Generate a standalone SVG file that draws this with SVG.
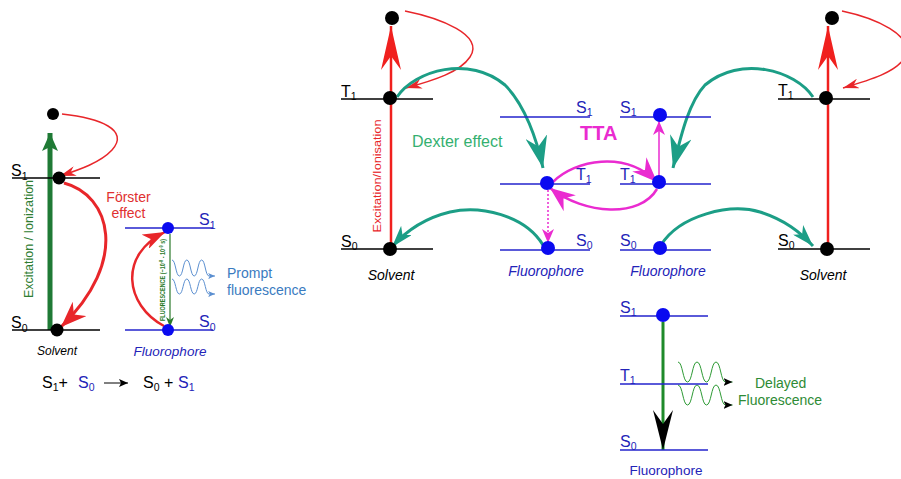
<svg xmlns="http://www.w3.org/2000/svg" width="901" height="479" viewBox="0 0 901 479">
<style>
text{font-family:"Liberation Sans",Arial,sans-serif}
.lb{stroke:#000;stroke-width:1.5;fill:none}
.ll{stroke:#2323cc;stroke-width:1.5;fill:none}
.kd{fill:#000}
.bd{fill:#0a0af0}
.lab{font-size:16px;fill:#000}
.labb{font-size:16px;fill:#2323b8}
.sub{font-size:10.5px}
.it{font-style:italic}
.red{stroke:#e8262a;fill:none}
.teal{stroke:#1c9e86;fill:none;stroke-width:3}
.mag{stroke:#ea2bd0;fill:none}
</style>
<defs>
<marker id="mGreenBig" viewBox="0 0 18 16" refX="18" refY="8" markerWidth="18" markerHeight="16" orient="auto" markerUnits="userSpaceOnUse"><path d="M18,8 L0,0 L4,8 L0,16 Z" fill="#1f7a35"/></marker>
<marker id="mRedBig" viewBox="0 0 26 20" refX="26" refY="10" markerWidth="26" markerHeight="20" orient="auto" markerUnits="userSpaceOnUse"><path d="M26,10 L0,0 L8,10 L0,20 Z" fill="#e8262a"/></marker>
<marker id="mRedMed" viewBox="0 0 22 16" refX="22" refY="8" markerWidth="22" markerHeight="16" orient="auto" markerUnits="userSpaceOnUse"><path d="M22,8 L0,0 L6,8 L0,16 Z" fill="#e8262a"/></marker>
<marker id="mRedThin" viewBox="0 0 16 10" refX="16" refY="5" markerWidth="16" markerHeight="10" orient="auto" markerUnits="userSpaceOnUse"><path d="M16,5 L0,0 L5,5 L0,10 Z" fill="#e8262a"/></marker>
<marker id="mRedVert" viewBox="0 0 44 20" refX="44" refY="10" markerWidth="44" markerHeight="20" orient="auto" markerUnits="userSpaceOnUse"><path d="M44,10 L0,0 L14,10 L0,20 Z" fill="#f0201e"/></marker>
<marker id="mGreenSmall" viewBox="0 0 10 8" refX="10" refY="4" markerWidth="10" markerHeight="8" orient="auto" markerUnits="userSpaceOnUse"><path d="M10,4 L0,0 L3,4 L0,8 Z" fill="#2a7a2a"/></marker>
<marker id="mBlueWave" viewBox="0 0 7 6" refX="7" refY="3" markerWidth="7" markerHeight="6" orient="auto" markerUnits="userSpaceOnUse"><path d="M7,3 L0,0 L2,3 L0,6 Z" fill="#5b8fd0"/></marker>
<marker id="mTealBig" viewBox="0 0 32 22" refX="32" refY="11" markerWidth="32" markerHeight="22" orient="auto" markerUnits="userSpaceOnUse"><path d="M32,11 L0,0 L10,11 L0,22 Z" fill="#1c9e86"/></marker>
<marker id="mTealSmall" viewBox="0 0 22 14" refX="22" refY="7" markerWidth="22" markerHeight="14" orient="auto" markerUnits="userSpaceOnUse"><path d="M22,7 L0,0 L6,7 L0,14 Z" fill="#1c9e86"/></marker>
<marker id="mMag" viewBox="0 0 25 20" refX="25" refY="10" markerWidth="25" markerHeight="20" orient="auto" markerUnits="userSpaceOnUse"><path d="M25,10 L0,0 L8,10 L0,20 Z" fill="#ea2bd0"/></marker>
<marker id="mMagSmall" viewBox="0 0 14 12" refX="14" refY="6" markerWidth="14" markerHeight="12" orient="auto" markerUnits="userSpaceOnUse"><path d="M14,6 L0,0 L4,6 L0,12 Z" fill="#ea2bd0"/></marker>
<marker id="mBlackBig" viewBox="0 0 40 20" refX="40" refY="10" markerWidth="40" markerHeight="20" orient="auto" markerUnits="userSpaceOnUse"><path d="M40,10 L0,0 L14,10 L0,20 Z" fill="#000"/></marker>
<marker id="mBlackSmall" viewBox="0 0 9 8" refX="9" refY="4" markerWidth="9" markerHeight="8" orient="auto" markerUnits="userSpaceOnUse"><path d="M9,4 L0,0 L2,4 L0,8 Z" fill="#000"/></marker>
</defs>

<g id="connectors">
  <!-- left panel -->
  <line x1="50" y1="330" x2="50" y2="133" stroke="#1f7a35" stroke-width="5" marker-end="url(#mGreenBig)"/>
  <path class="red" stroke-width="1.5" d="M62,114 C100,118 130,130 112,150 C100,163 78,170 60,176" marker-end="url(#mRedThin)"/>
  <path class="red" stroke-width="3" d="M64,183 C110,195 130,260 61,327" marker-end="url(#mRedBig)"/>
  <path class="red" stroke-width="2.5" d="M164,326 C125,305 118,255 165,232" marker-end="url(#mRedMed)"/>
  <line x1="170" y1="234" x2="170" y2="327" stroke="#2a7a2a" stroke-width="1.2" marker-end="url(#mGreenSmall)"/>
  <path d="M172,260 c3.7,0 3.7,16 7.4,16 c3.7,0 3.7,-16 7.4,-16 c3.7,0 3.7,16 7.4,16 c3.7,0 3.7,-16 7.4,-16 c3.7,0 3.7,16 7.4,16 l6,0" fill="none" stroke="#5b8fd0" stroke-width="1" marker-end="url(#mBlueWave)"/>
  <path d="M172,279 c3.7,0 3.7,15 7.4,15 c3.7,0 3.7,-15 7.4,-15 c3.7,0 3.7,15 7.4,15 c3.7,0 3.7,-15 7.4,-15 c3.7,0 3.7,15 7.4,15 l6,0" fill="none" stroke="#5b8fd0" stroke-width="1" marker-end="url(#mBlueWave)"/>
  <line x1="104" y1="383" x2="128" y2="383" stroke="#000" stroke-width="1" marker-end="url(#mBlackSmall)"/>

  <!-- middle: left solvent -->
  <line x1="391" y1="249" x2="391" y2="26" stroke="#f0201e" stroke-width="2.5" marker-end="url(#mRedVert)"/>
  <path class="red" stroke-width="1.5" d="M405,11 C440,18 485,35 470,57 C460,72 435,80 406,88" marker-end="url(#mRedThin)"/>
  <path class="teal" d="M397,97 C415,70 470,55 505,85 C525,105 537,140 543,168" marker-end="url(#mTealBig)"/>
  <path class="teal" stroke-width="2" d="M543,245 C525,215 480,205 450,212 C425,218 405,232 392,247" marker-end="url(#mTealSmall)"/>

  <!-- TTA -->
  <path class="mag" stroke-width="2.5" d="M553,182 C575,160 625,150 657,182" marker-end="url(#mMag)"/>
  <path class="mag" stroke-width="2.5" d="M657,189 C640,218 585,215 550,188" marker-end="url(#mMag)"/>
  <line x1="659" y1="180" x2="659" y2="121" stroke="#ea2bd0" stroke-width="1.5" marker-end="url(#mMagSmall)"/>
  <line x1="548" y1="190" x2="548" y2="243" stroke="#ea2bd0" stroke-width="1.5" stroke-dasharray="2,2" marker-end="url(#mMagSmall)"/>

  <!-- right solvent -->
  <line x1="828" y1="249" x2="828" y2="26" stroke="#f0201e" stroke-width="2.5" marker-end="url(#mRedVert)"/>
  <path class="red" stroke-width="1.5" d="M842,11 C875,18 915,35 905,57 C897,72 870,80 843,88" marker-end="url(#mRedThin)"/>
  <path class="teal" d="M813,97 C795,70 740,55 705,85 C688,103 680,140 673,168" marker-end="url(#mTealBig)"/>
  <path class="teal" stroke-width="2" d="M661,245 C680,215 730,203 760,212 C785,220 800,232 813,246" marker-end="url(#mTealSmall)"/>

  <!-- bottom fluorophore -->
  <line x1="663" y1="322" x2="663" y2="450" stroke="#1f8a2a" stroke-width="3" marker-end="url(#mBlackBig)"/>
  <path d="M678,362 c4.75,0 4.75,20 9.5,20 c4.75,0 4.75,-20 9.5,-20 c4.75,0 4.75,20 9.5,20 c4.75,0 4.75,-20 9.5,-20 c4.75,0 4.75,20 9.5,20 l7,0" fill="none" stroke="#2e9a35" stroke-width="1" marker-end="url(#mBlackSmall)"/>
  <path d="M678,385 c4.75,0 4.75,20 9.5,20 c4.75,0 4.75,-20 9.5,-20 c4.75,0 4.75,20 9.5,20 c4.75,0 4.75,-20 9.5,-20 c4.75,0 4.75,20 9.5,20 l7,0" fill="none" stroke="#2e9a35" stroke-width="1" marker-end="url(#mBlackSmall)"/>
</g>

<!-- Left panel: solvent -->
<g id="left-solvent">
  <line class="lb" x1="12" y1="178" x2="100" y2="178"/>
  <line class="lb" x1="12" y1="330" x2="100" y2="330"/>
  <circle class="kd" cx="53" cy="114" r="6"/>
  <circle class="kd" cx="59" cy="178" r="6.5"/>
  <circle class="kd" cx="57" cy="330" r="6.5"/>
  <text class="lab" x="11" y="176" font-size="17">S<tspan class="sub" dy="4">1</tspan></text>
  <text class="lab" x="11" y="328" font-size="17">S<tspan class="sub" dy="4">0</tspan></text>
  <text x="33" y="239" font-size="12.5" fill="#2e7d32" text-anchor="middle" transform="rotate(-90 33 239)">Excitation / Ionization</text>
  <text x="57" y="355" font-size="12" class="it" fill="#000" text-anchor="middle">Solvent</text>
  <text x="128.5" y="202" font-size="14" fill="#e03030" text-anchor="middle">Förster</text>
  <text x="128.5" y="218" font-size="14" fill="#e03030" text-anchor="middle">effect</text>
</g>

<g id="left-fluorophore">
  <line class="ll" x1="125" y1="228" x2="213" y2="228"/>
  <line class="ll" x1="125" y1="330" x2="213" y2="330"/>
  <circle class="bd" cx="168" cy="228" r="6"/>
  <circle class="bd" cx="168" cy="330" r="6"/>
  <text class="labb" x="199" y="225" font-size="17">S<tspan class="sub" dy="4">1</tspan></text>
  <text class="labb" x="199" y="327" font-size="17">S<tspan class="sub" dy="4">0</tspan></text>
  <text x="165" y="280" font-size="7" font-weight="bold" fill="#2a7a2a" text-anchor="middle" textLength="82" lengthAdjust="spacingAndGlyphs" transform="rotate(-90 165 280)">FLUORESCENCE (~10<tspan font-size="5" dy="-2">-8</tspan><tspan dy="2"> - 10</tspan><tspan font-size="5" dy="-2">-9</tspan><tspan dy="2"> s)</tspan></text>
  <text x="227" y="278" font-size="14" fill="#3a7bbf">Prompt</text>
  <text x="227" y="295" font-size="14" fill="#3a7bbf">fluorescence</text>
  <text x="170" y="356" font-size="13.5" class="it" fill="#2323b8" text-anchor="middle">Fluorophore</text>
</g>

<g id="equation">
  <text x="42" y="388" font-size="16" fill="#000">S<tspan class="sub" dy="3">1</tspan><tspan dy="-3">+</tspan></text>
  <text x="78" y="388" font-size="16" fill="#2323b8">S<tspan class="sub" dy="3">0</tspan></text>
  <text x="143" y="388" font-size="16" fill="#000">S<tspan class="sub" dy="3">0</tspan><tspan dy="-3"> +</tspan></text>
  <text x="178" y="388" font-size="16" fill="#2323b8">S<tspan class="sub" dy="3">1</tspan></text>
</g>

<!-- middle: left solvent -->
<g id="solvent-left">
  <line class="lb" x1="341" y1="99" x2="433" y2="99"/>
  <line class="lb" x1="341" y1="249" x2="433" y2="249"/>
  <circle class="kd" cx="392" cy="18" r="7"/>
  <circle class="kd" cx="390" cy="98" r="7"/>
  <circle class="kd" cx="390" cy="249" r="7"/>
  <text class="lab" x="341" y="97">T<tspan class="sub" dy="3">1</tspan></text>
  <text class="lab" x="341" y="247">S<tspan class="sub" dy="3">0</tspan></text>
  <text x="381" y="176" font-size="11" fill="#e8262a" text-anchor="middle" textLength="113" lengthAdjust="spacingAndGlyphs" transform="rotate(-90 381 176)">Excitation/Ionisation</text>
  <text x="391" y="280" font-size="14" class="it" fill="#000" text-anchor="middle">Solvent</text>
  <text x="412" y="147" font-size="16" fill="#33b070">Dexter effect</text>
</g>

<g id="fluorophore-a">
  <line class="ll" x1="500" y1="117" x2="590" y2="117"/>
  <line class="ll" x1="500" y1="184" x2="590" y2="184"/>
  <line class="ll" x1="500" y1="250" x2="590" y2="250"/>
  <circle class="bd" cx="547" cy="183" r="7"/>
  <circle class="bd" cx="548" cy="248" r="7"/>
  <text class="labb" x="576" y="113">S<tspan class="sub" dy="3">1</tspan></text>
  <text class="labb" x="576" y="180">T<tspan class="sub" dy="3">1</tspan></text>
  <text class="labb" x="576" y="246">S<tspan class="sub" dy="3">0</tspan></text>
  <text x="546" y="276" font-size="14" class="it" fill="#2323b8" text-anchor="middle">Fluorophore</text>
</g>

<text id="tta" x="580" y="140" font-size="20" font-weight="bold" fill="#ea2bd0">TTA</text>

<g id="fluorophore-b">
  <line class="ll" x1="620" y1="117" x2="711" y2="117"/>
  <line class="ll" x1="620" y1="184" x2="711" y2="184"/>
  <line class="ll" x1="620" y1="250" x2="711" y2="250"/>
  <circle class="bd" cx="660" cy="115" r="7"/>
  <circle class="bd" cx="659" cy="182" r="7"/>
  <circle class="bd" cx="660" cy="248" r="7"/>
  <text class="labb" x="620" y="113">S<tspan class="sub" dy="3">1</tspan></text>
  <text class="labb" x="620" y="180">T<tspan class="sub" dy="3">1</tspan></text>
  <text class="labb" x="620" y="246">S<tspan class="sub" dy="3">0</tspan></text>
  <text x="668" y="276" font-size="14" class="it" fill="#2323b8" text-anchor="middle">Fluorophore</text>
</g>

<g id="solvent-right">
  <line class="lb" x1="778" y1="99" x2="870" y2="99"/>
  <line class="lb" x1="778" y1="249" x2="870" y2="249"/>
  <circle class="kd" cx="832" cy="18" r="7"/>
  <circle class="kd" cx="826" cy="98" r="7"/>
  <circle class="kd" cx="827" cy="249" r="7"/>
  <text class="lab" x="778" y="96">T<tspan class="sub" dy="3">1</tspan></text>
  <text class="lab" x="778" y="246">S<tspan class="sub" dy="3">0</tspan></text>
  <text x="823" y="280" font-size="14" class="it" fill="#000" text-anchor="middle">Solvent</text>
</g>

<g id="fluorophore-bottom">
  <line class="ll" x1="620" y1="316" x2="708" y2="316"/>
  <line class="ll" x1="620" y1="384" x2="708" y2="384"/>
  <line class="ll" x1="620" y1="450" x2="708" y2="450"/>
  <circle class="bd" cx="663" cy="315" r="7"/>
  <text class="labb" x="620" y="313">S<tspan class="sub" dy="3">1</tspan></text>
  <text class="labb" x="620" y="381">T<tspan class="sub" dy="3">1</tspan></text>
  <text class="labb" x="620" y="447">S<tspan class="sub" dy="3">0</tspan></text>
  <text x="666" y="475" font-size="13.5" fill="#2323b8" text-anchor="middle">Fluorophore</text>
  <text x="755" y="388" font-size="14" fill="#2e8b35">Delayed</text>
  <text x="738" y="405" font-size="14" fill="#2e8b35">Fluorescence</text>
</g>
</svg>
